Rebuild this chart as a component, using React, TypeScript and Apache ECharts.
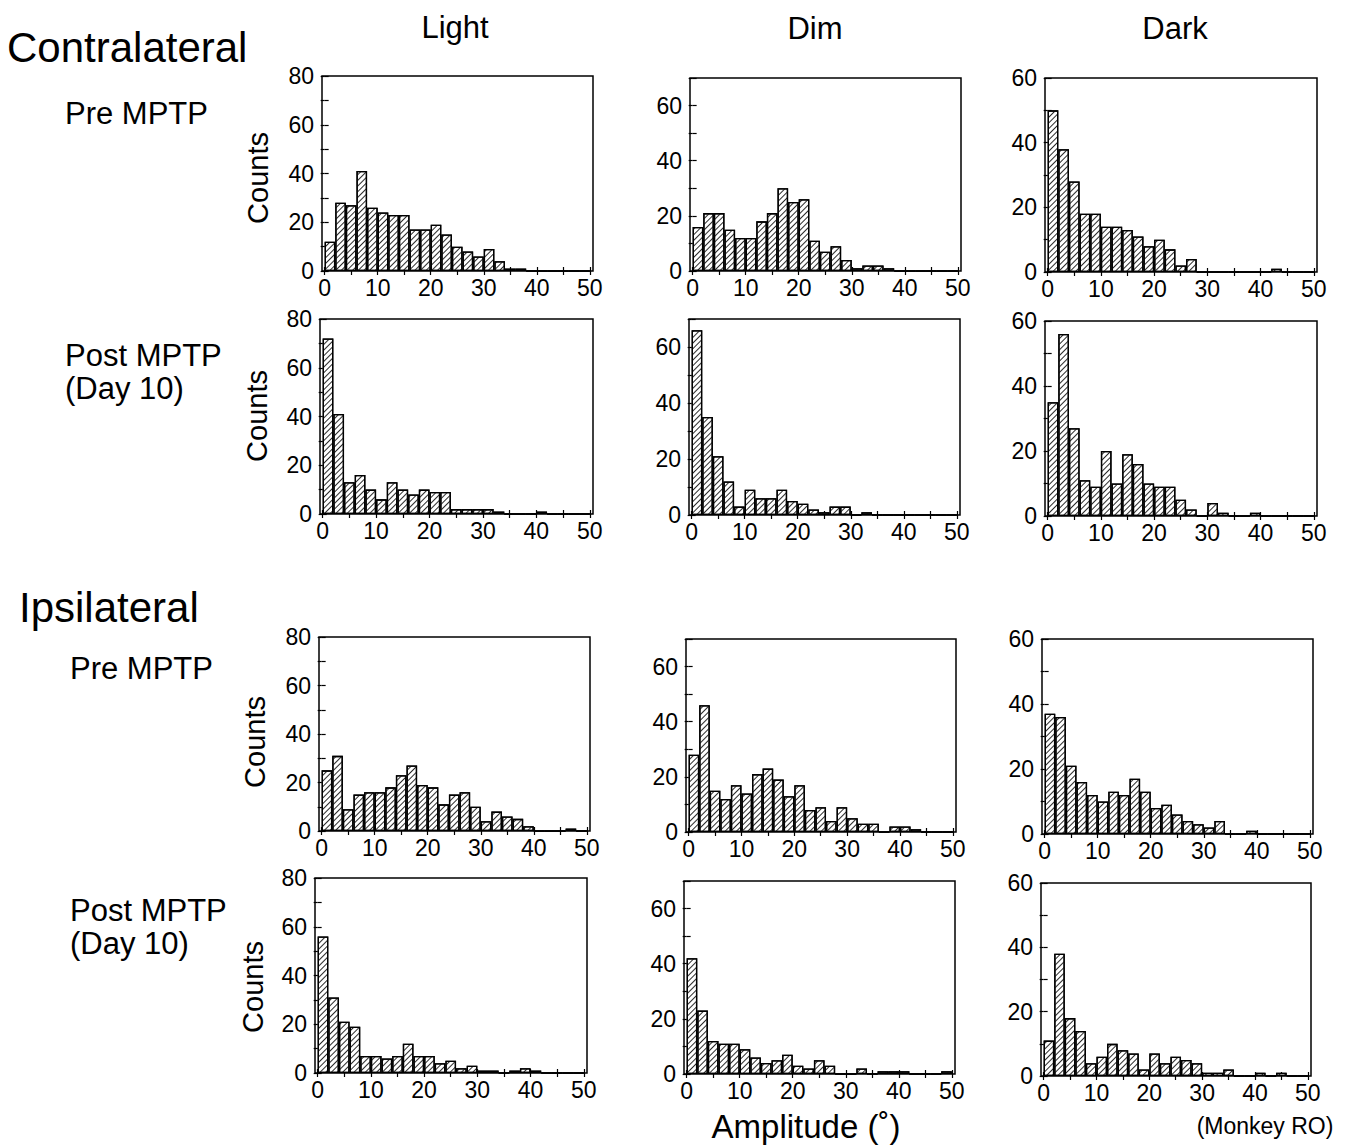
import React, { useEffect, useRef } from "react";
import * as echarts from "echarts";

// Amplitude bins, 2° wide, from 0° to 50°
const binStarts = [0, 2, 4, 6, 8, 10, 12, 14, 16, 18, 20, 22, 24, 26, 28, 30, 32, 34, 36, 38, 40, 42, 44, 46, 48];
const binWidth = 2;

// Counts per bin — contralateral saccades
const contraPreLight = [12, 28, 27, 41, 26, 24, 23, 23, 17, 17, 19, 15, 10, 8, 6, 9, 4, 1, 1, 0, 0, 0, 0, 0, 0];
const contraPreDim = [16, 21, 21, 15, 12, 12, 18, 21, 30, 25, 26, 11, 7, 9, 4, 1, 2, 2, 1, 0, 0, 0, 0, 0, 0];
const contraPreDark = [50, 38, 28, 18, 18, 14, 14, 13, 11, 8, 10, 7, 2, 4, 0, 0, 0, 0, 0, 0, 0, 1, 0, 0, 0];
const contraPostLight = [72, 41, 13, 16, 10, 6, 13, 10, 8, 10, 9, 9, 2, 2, 2, 2, 1, 0, 0, 0, 1, 0, 0, 0, 0];
const contraPostDim = [66, 35, 21, 12, 3, 9, 6, 6, 9, 5, 4, 2, 1, 3, 3, 0, 1, 0, 0, 0, 0, 0, 0, 0, 0];
const contraPostDark = [35, 56, 27, 11, 9, 20, 10, 19, 16, 10, 9, 9, 5, 2, 0, 4, 1, 0, 0, 1, 0, 0, 0, 0, 0];

// Counts per bin — ipsilateral saccades
const ipsiPreLight = [25, 31, 9, 15, 16, 16, 18, 23, 27, 19, 18, 11, 15, 16, 10, 4, 8, 6, 5, 2, 0, 0, 0, 1, 0];
const ipsiPreDim = [28, 46, 15, 12, 17, 14, 21, 23, 19, 13, 17, 8, 9, 4, 9, 5, 3, 3, 0, 2, 2, 1, 0, 0, 0];
const ipsiPreDark = [37, 36, 21, 16, 12, 10, 13, 12, 17, 13, 8, 9, 6, 4, 3, 2, 4, 0, 0, 1, 0, 0, 0, 0, 0];
const ipsiPostLight = [56, 31, 21, 19, 7, 7, 6, 7, 12, 7, 7, 4, 5, 2, 3, 1, 1, 0, 1, 2, 1, 0, 0, 0, 0];
const ipsiPostDim = [42, 23, 12, 11, 11, 9, 6, 4, 5, 7, 3, 2, 5, 3, 0, 0, 2, 0, 1, 1, 1, 0, 0, 0, 1];
const ipsiPostDark = [11, 38, 18, 14, 4, 6, 10, 8, 7, 2, 7, 4, 6, 5, 4, 1, 1, 2, 0, 0, 1, 0, 1, 0, 0];

// Axis ranges and tick labels per lighting condition
const xLabelValues = [0, 10, 20, 30, 40, 50];
const xTickValues = [0, 5, 10, 15, 20, 25, 30, 35, 40, 45, 50];
const lightMax = 80;
const dimMax = 70;
const darkMax = 60;
const lightYLabels = [0, 20, 40, 60, 80];
const dimYLabels = [0, 20, 40, 60];
const darkYLabels = [0, 20, 40, 60];
const lightYTicks = [0, 10, 20, 30, 40, 50, 60, 70, 80];
const dimYTicks = [0, 10, 20, 30, 40, 50, 60, 70];
const darkYTicks = [0, 10, 20, 30, 40, 50, 60];

const columnTitles = ["Light", "Dim", "Dark"];

const FONT = "'Liberation Sans', Arial, Helvetica, sans-serif";

type Panel = {
  counts: number[];
  max: number;
  yLabels: number[];
  yTicks: number[];
  box: [number, number, number, number]; // left, top, width, height of the plot frame
};

const panels: Panel[] = [
  { counts: contraPreLight, max: lightMax, yLabels: lightYLabels, yTicks: lightYTicks, box: [322, 76, 271, 195] },
  { counts: contraPreDim, max: dimMax, yLabels: dimYLabels, yTicks: dimYTicks, box: [690, 78, 271, 193] },
  { counts: contraPreDark, max: darkMax, yLabels: darkYLabels, yTicks: darkYTicks, box: [1045, 78, 272, 194] },
  { counts: contraPostLight, max: lightMax, yLabels: lightYLabels, yTicks: lightYTicks, box: [320, 319, 273, 195] },
  { counts: contraPostDim, max: dimMax, yLabels: dimYLabels, yTicks: dimYTicks, box: [689, 319, 271, 196] },
  { counts: contraPostDark, max: darkMax, yLabels: darkYLabels, yTicks: darkYTicks, box: [1045, 321, 272, 195] },
  { counts: ipsiPreLight, max: lightMax, yLabels: lightYLabels, yTicks: lightYTicks, box: [319, 637, 271, 194] },
  { counts: ipsiPreDim, max: dimMax, yLabels: dimYLabels, yTicks: dimYTicks, box: [686, 639, 270, 193] },
  { counts: ipsiPreDark, max: darkMax, yLabels: darkYLabels, yTicks: darkYTicks, box: [1042, 639, 271, 195] },
  { counts: ipsiPostLight, max: lightMax, yLabels: lightYLabels, yTicks: lightYTicks, box: [315, 878, 272, 195] },
  { counts: ipsiPostDim, max: dimMax, yLabels: dimYLabels, yTicks: dimYTicks, box: [684, 881, 271, 193] },
  { counts: ipsiPostDark, max: darkMax, yLabels: darkYLabels, yTicks: darkYTicks, box: [1041, 883, 270, 193] },
];

// Fine "////" hatching inside every bar
const hatch = {
  symbol: "rect",
  symbolSize: 1,
  dashArrayX: [1, 0],
  dashArrayY: [0.9, 2.3],
  rotation: -Math.PI / 4,
  color: "#2a2a2a",
  backgroundColor: "#ffffff",
};

function buildOption() {
  const grid: any[] = [];
  const xAxis: any[] = [];
  const yAxis: any[] = [];
  const series: any[] = [];

  const tickStyle = { show: true, inside: false, length: 4, lineStyle: { color: "#000", width: 1.2 } };
  const labelStyle = { color: "#000", fontFamily: FONT, fontSize: 23 };

  panels.forEach((p, i) => {
    const [left, top, width, height] = p.box;
    grid.push({
      left,
      top,
      width,
      height,
      show: true,
      borderColor: "#000",
      borderWidth: 1.5,
      backgroundColor: "transparent",
      containLabel: false,
    });
    // bottom amplitude axis with labels
    xAxis.push({
      type: "value",
      gridIndex: i,
      position: "bottom",
      min: -0.5,
      max: 50.6,
      axisLine: { show: false },
      splitLine: { show: false },
      axisTick: { ...tickStyle, customValues: xTickValues },
      axisLabel: { ...labelStyle, margin: 5, customValues: xLabelValues, showMinLabel: true, showMaxLabel: true },
    });
    // top frame ticks
    xAxis.push({
      type: "value",
      gridIndex: i,
      position: "top",
      min: -0.5,
      max: 50.6,
      axisLine: { show: false },
      splitLine: { show: false },
      axisTick: { ...tickStyle, customValues: xTickValues },
      axisLabel: { show: false },
    });
    // left counts axis with labels
    yAxis.push({
      type: "value",
      gridIndex: i,
      position: "left",
      min: 0,
      max: p.max,
      axisLine: { show: false },
      splitLine: { show: false },
      axisTick: { ...tickStyle, customValues: p.yTicks },
      axisLabel: { ...labelStyle, margin: 8, customValues: p.yLabels, showMinLabel: true, showMaxLabel: true },
    });
    // right frame ticks
    yAxis.push({
      type: "value",
      gridIndex: i,
      position: "right",
      min: 0,
      max: p.max,
      axisLine: { show: false },
      splitLine: { show: false },
      axisTick: { ...tickStyle, customValues: p.yTicks },
      axisLabel: { show: false },
    });
    series.push({
      type: "bar",
      xAxisIndex: 2 * i,
      yAxisIndex: 2 * i,
      barWidth: "100%",
      barGap: "0%",
      data: binStarts.map((b, k) => [b + binWidth / 2, p.counts[k]]),
      itemStyle: {
        color: "#ffffff",
        borderColor: "#000",
        borderWidth: 1.3,
        decal: hatch,
      },
      emphasis: { disabled: true },
      z: 3,
    });
  });

  const txt = (text: string, x: number, y: number, size: number, align = "left", rotation = 0) => ({
    type: "text",
    x,
    y,
    rotation,
    style: {
      text,
      fill: "#000",
      fontFamily: FONT,
      fontSize: size,
      align,
      verticalAlign: "middle",
    },
  });

  const graphic: any[] = [
    txt("Contralateral", 7, 47, 42),
    txt("Ipsilateral", 19, 607, 42),
    txt(columnTitles[0], 455, 27, 31, "center"),
    txt(columnTitles[1], 815, 28, 31, "center"),
    txt(columnTitles[2], 1175, 28, 31, "center"),
    txt("Pre MPTP", 65, 113, 31),
    txt("Post MPTP", 65, 355, 31),
    txt("(Day 10)", 65, 388, 31),
    txt("Pre MPTP", 70, 668, 31),
    txt("Post MPTP", 70, 910, 31),
    txt("(Day 10)", 70, 943, 31),
    txt("Counts", 258, 178, 29, "center", Math.PI / 2),
    txt("Counts", 257, 416, 29, "center", Math.PI / 2),
    txt("Counts", 255, 742, 29, "center", Math.PI / 2),
    txt("Counts", 253, 987, 29, "center", Math.PI / 2),
    txt("Amplitude (˚)", 806, 1126, 33, "center"),
    txt("(Monkey RO)", 1265, 1126, 23, "center"),
  ];

  return {
    animation: false,
    backgroundColor: "#ffffff",
    grid,
    xAxis,
    yAxis,
    series,
    graphic,
  };
}

export default function App() {
  const ref = useRef<HTMLDivElement>(null);
  useEffect(() => {
    if (!ref.current) return;
    const chart = echarts.init(ref.current, null, { renderer: "svg" });
    chart.setOption(buildOption() as any);
    return () => chart.dispose();
  }, []);
  return (
    <div
      ref={ref}
      style={{ position: "absolute", left: 0, top: 0, width: 1345, height: 1147, background: "#fff" }}
    />
  );
}
